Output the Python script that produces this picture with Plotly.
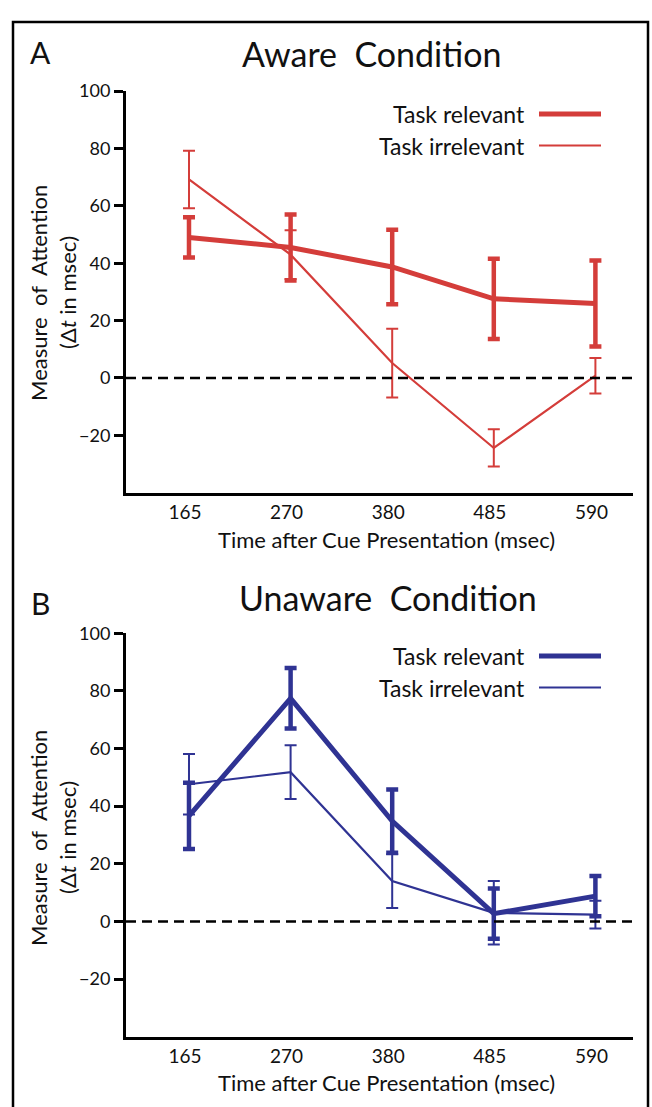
import plotly.graph_objects as go

times = ["165", "270", "380", "485", "590"]

aware_relevant = [49, 45.5, 38.7, 27.6, 26]
aware_relevant_err = [7, 11.5, 13, 14, 15]
aware_irrelevant = [69.2, 43, 5.2, -24.4, 0.8]
aware_irrelevant_err = [10, 8.5, 12, 6.5, 6.2]

unaware_relevant = [36.6, 77.4, 34.8, 2.7, 8.8]
unaware_relevant_err = [11.5, 10.5, 11, 8.7, 7]
unaware_irrelevant = [47.6, 51.8, 14, 3, 2.4]
unaware_irrelevant_err = [10.5, 9.3, 9.3, 11, 4.8]

y_ticks = [-20, 0, 20, 40, 60, 80, 100]

RED = "#d43d3a"
BLUE = "#2f3393"
FONT = "Lato"
W, H = 652, 1107


def px(x):
    return x / W


def py(y):
    return 1 - y / H


fig = go.Figure()


def add_series(y, err, color, width, xa, ya, thick):
    fig.add_trace(go.Scatter(
        x=times, y=y, mode="lines", xaxis=xa, yaxis=ya,
        line=dict(color=color, width=width),
        error_y=dict(type="data", array=err, visible=True, color=color,
                     thickness=4.5 if thick else 2, width=6),
        showlegend=False, hoverinfo="skip",
    ))


add_series(aware_irrelevant, aware_irrelevant_err, RED, 2.2, "x", "y", False)
add_series(aware_relevant, aware_relevant_err, RED, 5, "x", "y", True)
add_series(unaware_irrelevant, unaware_irrelevant_err, BLUE, 2.2, "x2", "y2", False)
add_series(unaware_relevant, unaware_relevant_err, BLUE, 5, "x2", "y2", True)

xdom = [px(126), px(633)]
xcommon = dict(
    type="category", categoryorder="array", categoryarray=times,
    range=[-0.62, 4.37], domain=xdom, showline=True, linecolor="black",
    linewidth=3, ticks="", showgrid=False, zeroline=False, ticklabelshift=-4,
    tickfont=dict(family=FONT, size=19, color="#111"), fixedrange=True,
)
ycommon = dict(
    range=[-40, 100], tickvals=y_ticks, showline=True, linecolor="black",
    linewidth=3, ticks="outside", ticklen=9, tickwidth=3, tickcolor="black",
    showgrid=False, zeroline=False,
    tickfont=dict(family=FONT, size=18, color="#111"), fixedrange=True,
)

fig.update_layout(
    width=W, height=H, margin=dict(l=0, r=0, t=0, b=0),
    paper_bgcolor="white", plot_bgcolor="white",
    xaxis=dict(anchor="y", **xcommon),
    yaxis=dict(anchor="x", domain=[py(486), py(80)], **ycommon),
    xaxis2=dict(anchor="y2", **xcommon),
    yaxis2=dict(anchor="x2", domain=[py(1036), py(628)], **ycommon),
    showlegend=False,
)

shapes = []
# frame
shapes.append(dict(type="rect", xref="paper", yref="paper",
                   x0=px(13), x1=px(648), y0=-0.02, y1=py(10),
                   line=dict(color="black", width=2.5)))
# zero dashed lines
for xr, yr in [("x domain", "y"), ("x2 domain", "y2")]:
    shapes.append(dict(type="line", xref=xr, yref=yr, x0=0, x1=1, y0=0, y1=0,
                       line=dict(color="black", width=2.5, dash="10px,6px")))

annotations = []


def text(x, y, s, size, anchor="center", angle=0):
    annotations.append(dict(xref="paper", yref="paper", x=px(x), y=py(y),
                            text=s, showarrow=False, xanchor=anchor,
                            yanchor="middle", textangle=angle,
                            font=dict(family=FONT, size=size, color="#111")))


panels = [
    (0, "A", "Aware  Condition", RED, 371),
    (550, "B", "Unaware  Condition", BLUE, 388),
]
for off, letter, title, color, tx in panels:
    text(40, off + 40 if off == 0 else 597, letter, 30)
    text(tx, off + 42 if off == 0 else 592, title, 34)
    ly1 = 103 if off == 0 else 651
    ly2 = 135 if off == 0 else 683
    text(527, ly1, "Task relevant", 23, anchor="right")
    text(527, ly2, "Task irrelevant", 23, anchor="right")
    shapes.append(dict(type="line", xref="paper", yref="paper",
                       x0=px(539), x1=px(601), y0=py(ly1), y1=py(ly1),
                       line=dict(color=color, width=5)))
    shapes.append(dict(type="line", xref="paper", yref="paper",
                       x0=px(539), x1=px(601), y0=py(ly2), y1=py(ly2),
                       line=dict(color=color, width=2)))
    yc = 284 if off == 0 else 835
    text(39, yc, "Measure  of  Attention", 22, angle=-90)
    text(68, yc, "(Δ<i>t</i> in msec)", 22, angle=-90)
    text(386, 533 if off == 0 else 1082, "Time after Cue Presentation (msec)", 22)

fig.update_layout(shapes=shapes, annotations=annotations)
fig.write_html("out.html", config={"displayModeBar": False},
               post_script="document.body.style.margin='0';document.body.style.overflow='hidden';")
